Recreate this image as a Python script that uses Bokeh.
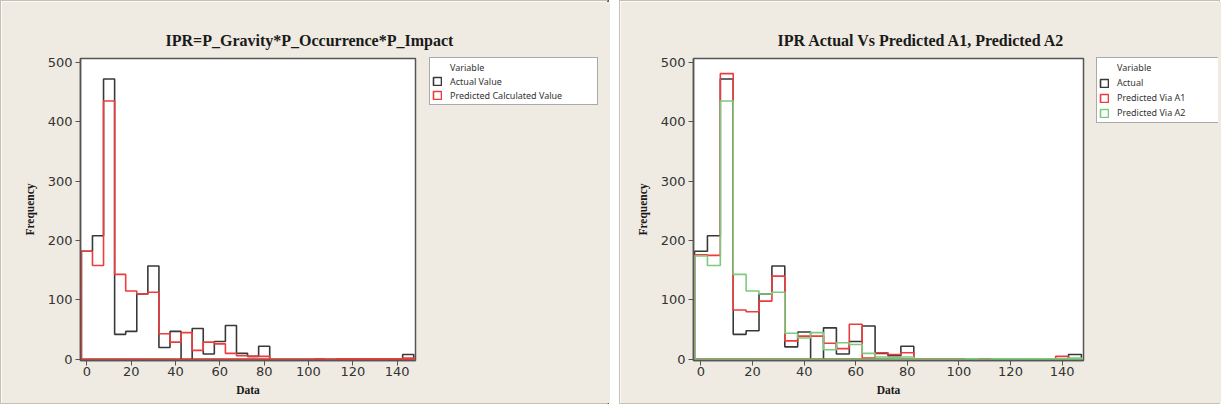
from bokeh.plotting import figure
from bokeh.models import Legend, LegendItem, FixedTicker, Range1d, Title
from bokeh.layouts import row
from bokeh.embed import file_html
from bokeh.resources import INLINE
import numpy as np

# ---- data (bin centres, width 5) ----
bin_centers = list(range(0, 150, 5))
bin_width = 5

actual_left = [182, 208, 472, 42, 47, 110, 157, 20, 47, 0, 52, 9, 30, 57, 10, 5, 22,
               0, 0, 0, 0, 0, 0, 0, 0, 0, 0, 0, 0, 8]
predicted_calc = [182, 158, 435, 143, 115, 110, 113, 43, 29, 45, 15, 29, 26, 10, 6, 5, 5,
                  0, 0, 0, 0, 1, 0, 1, 1, 1, 1, 1, 1, 2]

actual_right = [182, 208, 472, 42, 48, 110, 157, 21, 46, 0, 53, 9, 30, 56, 10, 6, 22,
                0, 0, 0, 0, 0, 0, 0, 0, 0, 0, 0, 0, 8]
predicted_a1 = [176, 175, 481, 83, 80, 98, 140, 31, 39, 39, 27, 18, 59, 2, 11, 8, 11,
                0, 0, 0, 0, 0, 0, 0, 0, 0, 0, 0, 5, 0]
predicted_a2 = [174, 158, 435, 143, 115, 110, 113, 44, 36, 45, 16, 28, 25, 10, 4, 3, 4,
                0, 0, 0, 0, 1, 0, 1, 1, 1, 1, 1, 1, 2]

x_ticks = [0, 20, 40, 60, 80, 100, 120, 140]
y_ticks = [0, 100, 200, 300, 400, 500]

title_left = "IPR=P_Gravity*P_Occurrence*P_Impact"
title_right = "IPR Actual Vs Predicted A1, Predicted A2"

BEIGE = "#EFEBE2"
C_BLACK = "#383838"
C_RED = "#EE3B3B"
C_GREEN = "#7DC97D"
FRAME = "#555555"
PANEL_EDGE = "1px solid #c4c0b6"


def outline(centers, counts):
    c = np.asarray(centers, dtype=float)
    v = np.asarray(counts, dtype=float)
    left = c - bin_width / 2
    right = c + bin_width / 2
    xs = np.concatenate([[left[0]], np.column_stack([left, right]).ravel(), [right[-1]]])
    ys = np.concatenate([[0.0], np.column_stack([v, v]).ravel(), [0.0]])
    return xs, ys


def make_fig(fw, fh, bl, br, bt, bb, title, title_offset, styles):
    p = figure(frame_width=fw, frame_height=fh, output_backend="svg", toolbar_location=None,
               x_range=Range1d(-2.9, 148.3), y_range=Range1d(-2, 506.5),
               min_border_left=bl, min_border_right=br, min_border_top=bt,
               min_border_bottom=bb, background_fill_color="white",
               border_fill_color=BEIGE, styles=styles)
    p.title = Title(text=title, align="left", offset=title_offset,
                    text_font="Liberation Serif", text_font_style="bold",
                    text_font_size="16px", text_color="#1a1a1a", standoff=20)
    p.grid.visible = False
    p.outline_line_color = FRAME
    p.outline_line_width = 1.5
    for ax in (p.xaxis[0], p.yaxis[0]):
        ax.axis_line_color = FRAME
        ax.axis_line_width = 1.5
        ax.major_tick_line_color = FRAME
        ax.major_tick_in = 0
        ax.major_tick_out = 5
        ax.minor_tick_line_color = None
        ax.major_label_text_font = "DejaVu Sans"
        ax.major_label_text_font_size = "13px"
        ax.major_label_text_color = "#333333"
        ax.axis_label_text_font = "Liberation Serif"
        ax.axis_label_text_font_style = "bold"
        ax.axis_label_text_font_size = "11.5px"
        ax.axis_label_text_color = "#1a1a1a"
    p.xaxis.ticker = FixedTicker(ticks=x_ticks)
    p.yaxis.ticker = FixedTicker(ticks=y_ticks)
    p.xaxis.axis_label = "Data"
    p.yaxis.axis_label = "Frequency"
    p.xaxis.major_label_standoff = 1
    p.yaxis.major_label_standoff = 3
    p.xaxis.axis_label_standoff = 5
    p.yaxis.axis_label_standoff = 9
    return p


def add_series(p, counts, color, lw=1.6):
    xs, ys = outline(bin_centers, counts)
    return p.patch(xs, ys, fill_alpha=0, line_color=color, line_width=lw)


def legend_overlay(width, inset, overlap, entries, label_width, label_height):
    # transparent figure laid over the right part of the panel, holding the legend;
    # its ranges lie above every count, so the proxy outlines stay out of view
    q = figure(width=width, height=404, output_backend="svg", toolbar_location=None,
               x_axis_type=None, y_axis_type=None,
               x_range=Range1d(0, 1), y_range=Range1d(1000, 1001),
               min_border_left=inset, min_border_right=0, min_border_top=57,
               min_border_bottom=47, background_fill_alpha=0, border_fill_alpha=0,
               outline_line_color=None, margin=(0, 0, 0, -overlap))
    q.grid.visible = False
    ghost = q.scatter(x=[], y=[], alpha=0)
    items = [LegendItem(label="Variable", renderers=[ghost])]
    for lab, counts, color in entries:
        proxy = add_series(q, counts, color)
        items.append(LegendItem(label=lab, renderers=[proxy]))
    lg = Legend(items=items, location="top_left", orientation="vertical",
                glyph_width=10, glyph_height=10, label_standoff=8,
                label_width=label_width, label_height=label_height, spacing=0, padding=2,
                margin=0, border_line_color=FRAME, border_line_width=1.5,
                background_fill_color="white", background_fill_alpha=1.0,
                label_text_font="Noto Sans", label_text_font_size="9px",
                label_text_color="#333333")
    q.add_layout(lg, "center")
    return q


# ---- left panel ----
left = make_fig(335, 300, 79, 195, 56, 46, title_left, 85,
                {"border": PANEL_EDGE, "border-right": "2px solid #3c3c3c"})
add_series(left, actual_left, C_BLACK)
add_series(left, predicted_calc, C_RED)
left_leg = legend_overlay(184, 7, 187,
                          [("Actual Value", actual_left, C_BLACK),
                           ("Predicted Calculated Value", predicted_calc, C_RED)],
                          145, 14)

# ---- right panel ----
right = make_fig(390, 300, 73, 138, 56, 46, title_right, 84, {"border": PANEL_EDGE})
add_series(right, actual_right, C_BLACK)
add_series(right, predicted_a1, C_RED)
add_series(right, predicted_a2, C_GREEN)
right_leg = legend_overlay(130, 8, 132,
                           [("Actual", actual_right, C_BLACK),
                            ("Predicted Via A1", predicted_a1, C_RED),
                            ("Predicted Via A2", predicted_a2, C_GREEN)],
                           107, 15)

layout = row(row(left, left_leg, spacing=0), row(right, right_leg, spacing=0), spacing=10)
open("out.html", "w").write(file_html(layout, INLINE))
